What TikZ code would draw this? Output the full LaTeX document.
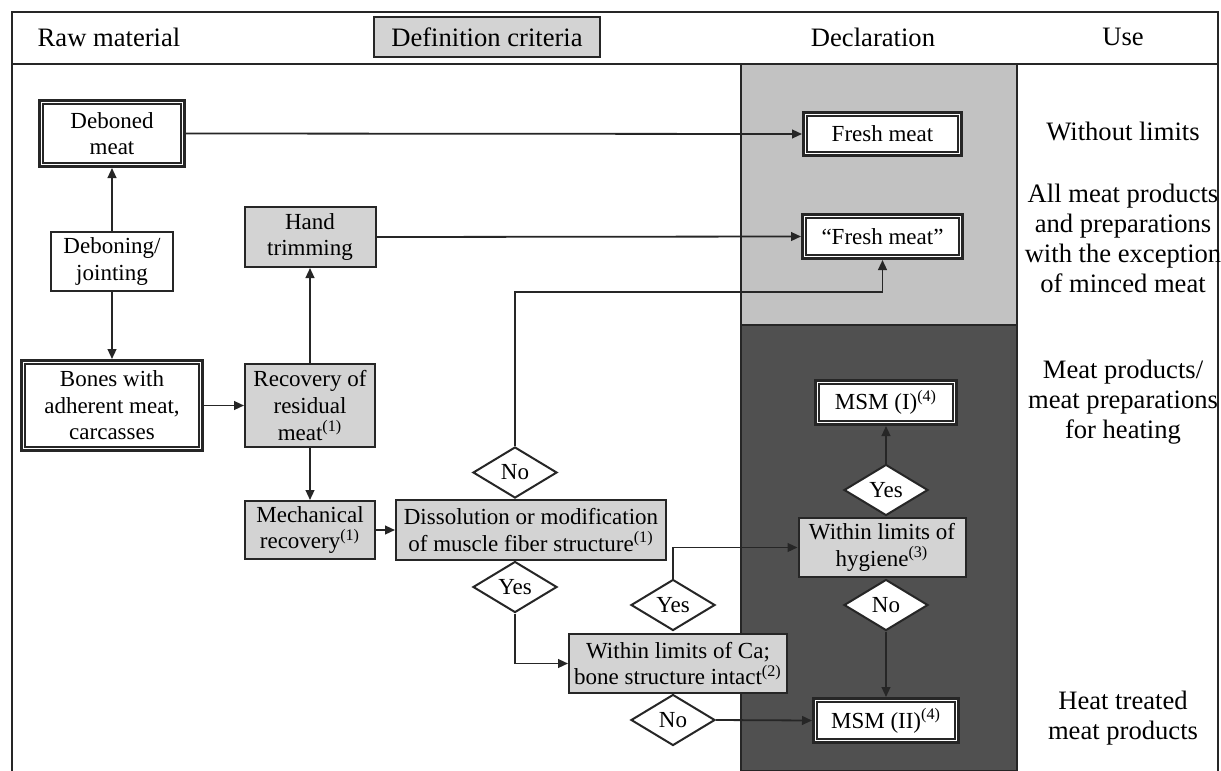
\documentclass[tikz,border=0pt]{standalone}
\usepackage{fontspec}
\setmainfont{Liberation Serif}
\usetikzlibrary{arrows.meta,shapes.geometric}
\definecolor{boxgray}{HTML}{D3D3D3}
\definecolor{collight}{HTML}{C2C2C2}
\definecolor{coldark}{HTML}{505050}
\definecolor{ink}{HTML}{262626}
\begin{document}
\begin{tikzpicture}[x=0.5pt,y=-0.5pt,
  every node/.style={font=\fontsize{11.5}{13.3}\selectfont, align=center, inner sep=0pt, text=black},
  dbl/.style={draw=ink, line width=1.5pt, fill=white},
  grayb/.style={draw=ink, line width=1pt, fill=boxgray},
  whiteb/.style={draw=ink, line width=1pt, fill=white},
  dec/.style={diamond, draw=ink, line width=1pt, fill=white, minimum width=42pt, minimum height=25.5pt, inner sep=0pt},
  arr/.style={draw=ink, line width=0.9pt, -{Triangle[length=5pt,width=4.4pt]}},
  big/.style={font=\fontsize{13.3}{15}\selectfont},
  frame/.style={draw=ink, line width=1.1pt},
  innerline/.style={draw=ink, line width=0.8pt},
]
\useasboundingbox[fill=white] (0,0) rectangle (1221,771);
% columns
\path[fill=collight, draw=ink, line width=0.8pt] (741,64) rectangle (1017,325);
\path[fill=coldark, draw=ink, line width=0.8pt] (741,325) rectangle (1017,771);
% frame
\draw[frame] (12,771) -- (12,12) -- (1218,12) -- (1218,771);
\draw[frame] (12,64) -- (1218,64);
% header
\node[big] (hraw) at (109,37) {Raw material};
\node[grayb, big, minimum width=113pt, minimum height=20pt] (hdef) at (487,37) {Definition criteria};
\node[big] (hdecl) at (873,37) {Declaration};
\node[big] (huse) at (1123,37) {Use};
% use column
\node[big] (u1) at (1123,131) {Without limits};
\node[big] (u2) at (1123,238) {All meat products\\and preparations\\with the exception\\of minced meat};
\node[big] (u3) at (1123,402) {Meat products/\\meat preparations\\for heating};
\node[big] (u4) at (1123,718) {Heat treated\\meat products};
% boxes
\node[dbl, minimum width=72.5pt, minimum height=33pt] (deboned) at (112,133.5) {Deboned\\meat};
\node[whiteb, minimum width=61pt, minimum height=29.5pt] (debon) at (112,261.5) {Deboning/\\jointing};
\node[dbl, minimum width=90.5pt, minimum height=45pt] (bones) at (112,405.5) {Bones with\\adherent meat,\\carcasses};
\node[grayb, minimum width=65.5pt, minimum height=30pt] (hand) at (310,237) {Hand\\trimming};
\node[grayb, minimum width=65pt, minimum height=41.5pt] (recov) at (310,405.5) {Recovery of\\residual\\meat\textsuperscript{(1)}};
\node[grayb, minimum width=65pt, minimum height=29pt] (mech) at (310,530) {Mechanical\\recovery\textsuperscript{(1)}};
\node[grayb, minimum width=135pt, minimum height=30pt] (diss) at (531,530) {Dissolution or modification\\of muscle fiber structure\textsuperscript{(1)}};
\node[grayb, minimum width=109pt, minimum height=29.5pt] (ca) at (678,663.5) {Within limits of Ca;\\bone structure intact\textsuperscript{(2)}};
\node[grayb, minimum width=83.5pt, minimum height=29.5pt] (hyg) at (882,547.5) {Within limits of\\hygiene\textsuperscript{(3)}};
\node[dbl, minimum width=79pt, minimum height=21.5pt] (fresh1) at (882.5,134) {Fresh meat};
\node[dbl, minimum width=80pt, minimum height=22pt] (fresh2) at (882.5,236.5) {“Fresh meat”};
\node[dbl, minimum width=70.5pt, minimum height=22pt] (msm1) at (886,402.5) {MSM (I)\textsuperscript{(4)}};
\node[dbl, minimum width=72.5pt, minimum height=22pt] (msm2) at (886,720.5) {MSM (II)\textsuperscript{(4)}};
\foreach \n in {deboned,bones,fresh1,fresh2,msm1,msm2}
  \draw[innerline] ([shift={(2.6pt,-2.6pt)}]\n.north west) rectangle ([shift={(-2.6pt,2.6pt)}]\n.south east);
% decisions
\node[dec] (no1) at (515,472.5) {No};
\node[dec] (yes1) at (515,587) {Yes};
\node[dec] (yes2) at (673,605) {Yes};
\node[dec] (no2) at (673,720) {No};
\node[dec] (yes3) at (886,490) {Yes};
\node[dec] (no3) at (886,605) {No};
% connectors
\draw[arr] (debon.north) -- (deboned.south);
\draw[arr] (debon.south) -- (bones.north);
\draw[arr] (bones.east) -- (recov.west);
\draw[arr] (recov.north) -- (hand.south);
\draw[arr] (recov.south) -- (mech.north);
\draw[arr] (mech.east) -- (diss.west);
\draw[arr] (deboned.east) -- (fresh1.west);
\draw[arr] (hand.east) -- (fresh2.west);
\draw[arr] (no1.north) -- ++(0,-154) -| (fresh2.south);
\draw[arr] (yes1.south) |- (ca.west);
\draw[arr] (yes2.north) |- (hyg.west);
\draw[arr] (no2.east) -- (msm2.west);
\draw[arr] (yes3.north) -- (msm1.south);
\draw[arr] (no3.south) -- (msm2.north);
\end{tikzpicture}
\end{document}
